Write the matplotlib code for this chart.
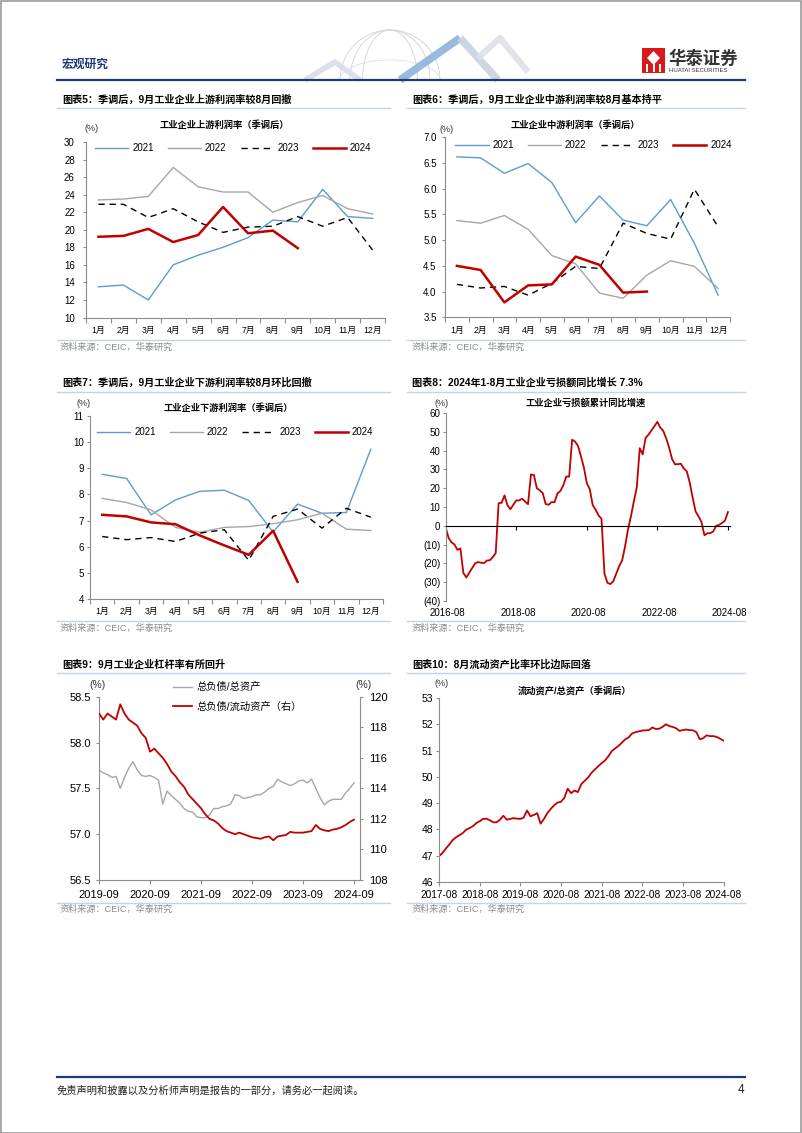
import numpy as np
import matplotlib
matplotlib.use('Agg')
import matplotlib.pyplot as plt
import matplotlib.transforms as mtransforms
from matplotlib.lines import Line2D
from matplotlib.patches import Rectangle, Polygon, Arc

plt.rcParams['font.family'] = ['Liberation Sans', 'Noto Sans CJK SC', 'DejaVu Sans']
plt.rcParams['axes.unicode_minus'] = False

# ---------------- data ----------------
months_cn = ['1月', '2月', '3月', '4月', '5月', '6月', '7月', '8月', '9月', '10月', '11月', '12月']
years = ['2021', '2022', '2023', '2024']

up_2021 = [13.5, 13.7, 12.0, 16.0, 17.1, 18.0, 19.1, 21.1, 20.9, 24.6, 21.5, 21.3]
up_2022 = [23.4, 23.5, 23.8, 27.1, 24.9, 24.3, 24.3, 22.0, 23.1, 23.9, 22.4, 21.8]
up_2023 = [22.9, 22.9, 21.4, 22.4, 20.9, 19.7, 20.3, 20.4, 21.5, 20.4, 21.4, 17.7]
up_2024 = [19.2, 19.3, 20.1, 18.6, 19.4, 22.6, 19.6, 19.9, 17.9]

mid_2021 = [6.62, 6.60, 6.30, 6.49, 6.12, 5.34, 5.86, 5.39, 5.28, 5.79, 4.94, 3.93]
mid_2022 = [5.38, 5.33, 5.48, 5.21, 4.70, 4.54, 3.97, 3.87, 4.32, 4.60, 4.49, 4.06]
mid_2023 = [4.14, 4.07, 4.10, 3.93, 4.16, 4.49, 4.45, 5.33, 5.13, 5.02, 5.99, 5.26]
mid_2024 = [4.50, 4.42, 3.79, 4.12, 4.14, 4.68, 4.52, 3.98, 4.00]

down_2021 = [8.77, 8.61, 7.22, 7.79, 8.12, 8.16, 7.77, 6.56, 7.63, 7.28, 7.31, 9.73]
down_2022 = [7.85, 7.69, 7.41, 6.74, 6.55, 6.74, 6.77, 6.88, 7.03, 7.28, 6.67, 6.62]
down_2023 = [6.39, 6.27, 6.35, 6.20, 6.52, 6.65, 5.48, 7.16, 7.44, 6.71, 7.47, 7.13]
down_2024 = [7.22, 7.16, 6.93, 6.86, 6.43, 6.05, 5.69, 6.61, 4.66]

# 亏损额累计同比, monthly 2016-08 .. 2024-08
loss_yoy = [-1.0, -6.5, -8.8, -10.0, -12.8, -12.0, -25.0, -27.5, -25.0, -22.5,
            -20.0, -19.3, -19.6, -19.9, -18.5, -18.3, -16.7, -14.6, 12.0, 12.2,
            16.2, 11.0, 8.8, 11.2, 13.5, 13.5, 14.4, 12.9, 11.5, 27.3,
            27.0, 20.0, 18.9, 17.4, 11.6, 11.2, 12.6, 12.5, 17.2, 18.5,
            21.5, 26.2, 26.2, 45.8, 44.8, 42.5, 37.0, 31.0, 22.7, 19.5,
            11.0, 8.5, 5.5, 3.7, -25.5, -30.3, -31.0, -29.5, -25.5, -21.5,
            -18.5, -11.0, -2.0, 5.0, 13.0, 20.5, 41.3, 38.0, 46.8, 48.5,
            50.8, 53.0, 55.3, 52.2, 50.5, 46.5, 41.5, 35.5, 32.7, 32.8,
            33.0, 30.5, 29.0, 23.0, 15.0, 7.6, 5.0, 2.0, -5.0, -4.0,
            -3.9, -3.0, 0.0, 0.5, 1.5, 2.8, 7.3]
loss_ticklabels = ['2016-08', '2018-08', '2020-08', '2022-08', '2024-08']
loss_yticklabels = ['(40)', '(30)', '(20)', '(10)', '0', '10', '20', '30', '40', '50', '60']

# 杠杆率, monthly 2019-09 .. 2024-09
lev_total = [57.70, 57.67, 57.65, 57.62, 57.63, 57.50, 57.62, 57.72, 57.79, 57.70,
             57.64, 57.63, 57.64, 57.62, 57.59, 57.33, 57.47, 57.42, 57.38, 57.34,
             57.28, 57.25, 57.24, 57.19, 57.18, 57.18, 57.21, 57.28, 57.28, 57.30,
             57.31, 57.33, 57.43, 57.42, 57.39, 57.40, 57.41, 57.43, 57.43, 57.46,
             57.50, 57.52, 57.60, 57.57, 57.55, 57.53, 57.55, 57.58, 57.59, 57.56,
             57.60, 57.50, 57.40, 57.32, 57.36, 57.38, 57.38, 57.38, 57.45, 57.50,
             57.56]
lev_current = [118.9, 118.5, 118.9, 118.7, 118.5, 119.5, 118.9, 118.5, 118.3, 118.1,
               117.6, 117.3, 116.4, 116.6, 116.3, 116.0, 115.6, 115.1, 114.8, 114.4,
               114.1, 113.6, 113.3, 113.0, 112.7, 112.3, 112.0, 111.9, 111.7, 111.4,
               111.2, 111.1, 111.0, 111.1, 111.0, 110.9, 110.8, 110.75, 110.7, 110.8,
               110.85, 110.6, 110.85, 110.9, 110.95, 111.15, 111.1, 111.1, 111.1, 111.15,
               111.2, 111.6, 111.35, 111.25, 111.2, 111.3, 111.35, 111.45, 111.6, 111.8,
               111.95]
lev_ticklabels = ['2019-09', '2020-09', '2021-09', '2022-09', '2023-09', '2024-09']
lev_names = ['总负债/总资产', '总负债/流动资产（右）']

# 流动资产/总资产, monthly 2017-08 .. 2024-08
cur_ratio = [46.98, 47.10, 47.27, 47.42, 47.59, 47.70, 47.78, 47.86, 47.99, 48.05,
             48.12, 48.24, 48.31, 48.40, 48.41, 48.35, 48.27, 48.27, 48.37, 48.52,
             48.37, 48.40, 48.43, 48.41, 48.40, 48.45, 48.72, 48.50, 48.55, 48.62,
             48.22, 48.40, 48.62, 48.78, 48.92, 49.02, 49.05, 49.20, 49.55, 49.38,
             49.48, 49.42, 49.72, 49.85, 49.97, 50.15, 50.28, 50.40, 50.52, 50.62,
             50.78, 50.98, 51.08, 51.18, 51.30, 51.43, 51.50, 51.65, 51.70, 51.73,
             51.76, 51.77, 51.78, 51.88, 51.82, 51.83, 51.90, 52.00, 51.93, 51.90,
             51.85, 51.75, 51.78, 51.80, 51.78, 51.77, 51.70, 51.43, 51.47, 51.58,
             51.55, 51.55, 51.52, 51.45, 51.38]
cur_ticklabels = ['2017-08', '2018-08', '2019-08', '2020-08', '2021-08', '2022-08', '2023-08', '2024-08']

# ---------------- style ----------------
BLUE = '#5B9BD5'
GRAY = '#A6A6A6'
RED = '#C00000'
AXC = '#8C8C8C'
NAVY = '#1F3A78'
LIGHTLINE = '#C5D3E2'

W, H = 802, 1133
fig = plt.figure(figsize=(W / 100, H / 100), dpi=100)


def ax_px(l, t, r, b):
    return fig.add_axes([l / W, 1 - b / H, (r - l) / W, (b - t) / H])


def ftext(x, y, s, **kw):
    kw.setdefault('va', 'center')
    return fig.text(x / W, 1 - y / H, s, **kw)


def hline(x0, x1, y, color, lw):
    fig.add_artist(Line2D([x0 / W, x1 / W], [1 - y / H, 1 - y / H], color=color, lw=lw,
                          transform=fig.transFigure))


def fpoly(pts, color, lw, alpha=1.0):
    fig.add_artist(Line2D([p[0] / W for p in pts], [1 - p[1] / H for p in pts], color=color,
                          lw=lw, alpha=alpha, transform=fig.transFigure, solid_capstyle='butt'))


def style_spines(ax):
    for s in ['top', 'right']:
        ax.spines[s].set_visible(False)
    for s in ['left', 'bottom']:
        ax.spines[s].set_color(AXC)
        ax.spines[s].set_linewidth(0.8)
    ax.patch.set_alpha(0)


def cat_chart(ax, d21, d22, d23, d24, ylim, yticks, yfmt, ypad, legx, legy):
    x = np.arange(12)
    ax.plot(x, d21, color=BLUE, lw=1.0, label=years[0])
    ax.plot(x, d22, color=GRAY, lw=1.0, label=years[1])
    ax.plot(x, d23, color='black', lw=1.0, ls=(0, (4.5, 3.5)), label=years[2])
    ax.plot(np.arange(len(d24)), d24, color=RED, lw=1.8, label=years[3])
    ax.set_xlim(-0.5, 11.5)
    ax.set_xticks(x)
    ax.set_xticklabels(months_cn, fontsize=6.3)
    ax.set_xticks(np.arange(-0.5, 12, 1), minor=True)
    ax.tick_params(axis='x', which='major', length=0, pad=6)
    ax.tick_params(axis='x', which='minor', length=3.5, direction='out', color=AXC, width=0.8)
    ax.set_ylim(*ylim)
    ax.set_yticks(yticks)
    ax.set_yticklabels([yfmt.format(v) for v in yticks], fontsize=7)
    ax.tick_params(axis='y', length=2.5, direction='out', color=AXC, width=0.8, pad=ypad)
    style_spines(ax)
    ax.legend(loc='center left', bbox_to_anchor=(legx, legy), ncol=4, frameon=False,
              fontsize=7, handlelength=3.4, handletextpad=0.4, columnspacing=1.45,
              borderaxespad=0, borderpad=0.2)


# ---------------- page frame / header ----------------
fig.add_artist(Rectangle((0.5 / W, 0.5 / H), (W - 1.5) / W, (H - 1.5) / H, transform=fig.transFigure,
                         fill=False, edgecolor='#9A9A9A', lw=1.2))

# decorative header graphic (faint globe + zigzag ribbons)
for wdt, th1, th2 in [(100, 0, 180), (80, 0, 180), (55, 0, 180)]:
    fig.add_artist(Arc((390 / W, 1 - 80 / H), wdt / W, 100 / H, theta1=th1, theta2=th2,
                       transform=fig.transFigure, edgecolor='#D3D8DE', lw=0.7))
fig.add_artist(Arc((390 / W, 1 - 80 / H), 100 / W, 40 / H, theta1=0, theta2=180,
                   transform=fig.transFigure, edgecolor='#DCE0E5', lw=0.6))
fpoly([(305, 80), (335, 62), (360, 80)], '#D5DEE8', 4, 0.9)
fpoly([(400, 80), (460, 38)], '#8FB2DB', 5.5, 0.9)
fpoly([(460, 38), (498, 80)], '#C9D3DE', 5.5, 0.9)
fpoly([(478, 58), (500, 38), (528, 72)], '#DCE2E9', 4.5, 0.9)

ftext(62, 65, '宏观研究', fontsize=8.5, color=NAVY, fontweight='bold')
fig.add_artist(Rectangle((642 / W, 1 - 73 / H), 23 / W, 25 / H, transform=fig.transFigure,
                         facecolor='#D7191C', edgecolor='none'))
fig.add_artist(Polygon([(653.5 / W, 1 - 51 / H), (660 / W, 1 - 58 / H), (653.5 / W, 1 - 65 / H),
                        (647 / W, 1 - 58 / H)], closed=True, transform=fig.transFigure,
                       facecolor='white', edgecolor='none'))
for xx in [647, 653.5, 660]:
    fpoly([(xx, 64), (xx, 72)], 'white', 1.4)
ftext(668, 58, '华泰证券', fontsize=12.5, color='#333333', fontweight='bold')
ftext(669, 70.5, 'HUATAI SECURITIES', fontsize=4.3, color='#333333')
hline(57, 745, 80, NAVY, 1.6)

# footer
hline(57, 745, 1077, NAVY, 1.6)
ftext(57, 1090, '免责声明和披露以及分析师声明是报告的一部分，请务必一起阅读。', fontsize=7.4,
      color='#222222', style='italic')
ftext(744, 1090, '4', fontsize=8.5, ha='right', color='#222222')

# ---------------- section titles and sources ----------------
LX0, LX1, RX0, RX1 = 57, 390, 407, 745
titles = [
    (62, 100, '图表5：季调后，9月工业企业上游利润率较8月回撤'),
    (412, 100, '图表6：季调后，9月工业企业中游利润率较8月基本持平'),
    (62, 383, '图表7：季调后，9月工业企业下游利润率较8月环比回撤'),
    (412, 383, '图表8：2024年1-8月工业企业亏损额同比增长 7.3%'),
    (62, 665, '图表9：9月工业企业杠杆率有所回升'),
    (412, 665, '图表10：8月流动资产比率环比边际回落'),
]
for x, y, s in titles:
    ftext(x, y, s, fontsize=7.3, fontweight='bold', color='black')
for y in [107.5, 392, 673]:
    hline(LX0, LX1, y, LIGHTLINE, 1.0)
    hline(RX0, RX1, y, LIGHTLINE, 1.0)
for ys, yl in [(347, 339.5), (628.5, 621), (909, 902.5)]:
    hline(LX0, LX1, yl, LIGHTLINE, 1.0)
    hline(RX0, RX1, yl, LIGHTLINE, 1.0)
    ftext(60, ys, '资料来源：CEIC，华泰研究', fontsize=6.6, color='#8C8C8C')
    ftext(412, ys, '资料来源：CEIC，华泰研究', fontsize=6.6, color='#8C8C8C')

SUBFS = 6.7

# ---------------- chart 5 ----------------
ax5 = ax_px(86, 142, 385, 317.5)
cat_chart(ax5, up_2021, up_2022, up_2023, up_2024, (10, 30), list(range(10, 31, 2)), '{:d}',
          5.5, 0.025, 0.963)
ftext(224, 125, '工业企业上游利润率（季调后）', fontsize=SUBFS, fontweight='bold', ha='center')
ftext(92, 128.5, '(%)', fontsize=6.5, ha='center', color='#333333')

# ---------------- chart 6 ----------------
ax6 = ax_px(445, 137.3, 730, 317.3)
cat_chart(ax6, mid_2021, mid_2022, mid_2023, mid_2024, (3.5, 7.0),
          [3.5, 4.0, 4.5, 5.0, 5.5, 6.0, 6.5, 7.0], '{:.1f}', 3.5, 0.03, 0.955)
ftext(575, 125.5, '工业企业中游利润率（季调后）', fontsize=SUBFS, fontweight='bold', ha='center')
ftext(447, 129, '(%)', fontsize=6.5, ha='center', color='#333333')

# ---------------- chart 7 ----------------
ax7 = ax_px(90, 416, 383, 599)
cat_chart(ax7, down_2021, down_2022, down_2023, down_2024, (4, 11), list(range(4, 12)), '{:d}',
          2.0, 0.018, 0.912)
ftext(228, 408, '工业企业下游利润率（季调后）', fontsize=SUBFS, fontweight='bold', ha='center')
ftext(84, 404, '(%)', fontsize=6.5, ha='center', color='#333333')

# ---------------- chart 8 ----------------
ax8 = ax_px(445.7, 413, 730, 601)
xm = np.arange(len(loss_yoy))
ax8.plot(xm, loss_yoy, color=RED, lw=1.3)
ax8.set_xlim(0, 96.7)
ax8.set_ylim(-40, 60)
ax8.set_yticks(list(range(-40, 61, 10)))
ax8.set_yticklabels(loss_yticklabels, fontsize=7)
ax8.tick_params(axis='y', length=2.5, direction='out', color=AXC, width=0.8, pad=1.5)
style_spines(ax8)
ax8.spines['bottom'].set_position(('data', 0))
ax8.spines['bottom'].set_color('black')
xt8 = [0, 24, 48, 72, 96]
ax8.set_xticks(xt8)
ax8.tick_params(axis='x', length=3, direction='out', color='black', width=0.8, labelbottom=False)
trans8 = mtransforms.blended_transform_factory(ax8.transData, ax8.transAxes)
for xv, lab in zip(xt8, loss_ticklabels):
    t = ax8.text(xv + 0.6, -0.062, lab, transform=trans8, ha='center', va='center', fontsize=7)
ftext(586, 403, '工业企业亏损额累计同比增速', fontsize=SUBFS, fontweight='bold', ha='center')
ftext(442, 403, '(%)', fontsize=6.5, ha='center', color='#333333')

# ---------------- chart 9 ----------------
ax9 = ax_px(99, 696.7, 360, 880)
ax9r = ax9.twinx()
xl = np.arange(len(lev_total))
l1, = ax9.plot(xl, lev_total, color=GRAY, lw=1.0, label=lev_names[0])
l2, = ax9r.plot(xl, lev_current, color=RED, lw=1.3, label=lev_names[1])
ax9.set_xlim(0, 61.4)
ax9.set_ylim(56.5, 58.5)
ax9.set_yticks([56.5, 57.0, 57.5, 58.0, 58.5])
ax9.set_yticklabels(['56.5', '57.0', '57.5', '58.0', '58.5'], fontsize=8)
ax9r.set_ylim(108, 120)
ax9r.set_yticks(list(range(108, 121, 2)))
ax9r.set_yticklabels([str(v) for v in range(108, 121, 2)], fontsize=8)
ax9.set_xticks(list(range(0, 61, 12)))
ax9.set_xticklabels(lev_ticklabels, fontsize=8)
ax9.tick_params(axis='x', length=3, direction='out', color=AXC, width=0.8, pad=4)
ax9.tick_params(axis='y', length=2.5, direction='out', color=AXC, width=0.8, pad=3)
ax9r.tick_params(axis='y', length=2.5, direction='out', color=AXC, width=0.8, pad=4)
style_spines(ax9)
for s in ['top', 'left', 'bottom']:
    ax9r.spines[s].set_visible(False)
ax9r.spines['right'].set_color(AXC)
ax9r.spines['right'].set_linewidth(0.8)
ax9.legend(handles=[l1, l2], loc='upper left', bbox_to_anchor=(0.285, 1.08), frameon=False,
           fontsize=7.4, handlelength=1.8, handletextpad=0.5, labelspacing=0.95,
           borderaxespad=0, borderpad=0)
ftext(97, 685, '(%)', fontsize=7.5, ha='center', color='#333333')
ftext(364, 685, '(%)', fontsize=7.5, ha='center', color='#333333')

# ---------------- chart 10 ----------------
ax10 = ax_px(439, 698, 723.5, 882)
xc = np.arange(len(cur_ratio))
ax10.plot(xc, cur_ratio, color=RED, lw=1.3)
ax10.set_xlim(0, 84)
ax10.set_ylim(46, 53)
ax10.set_yticks(list(range(46, 54)))
ax10.set_yticklabels([str(v) for v in range(46, 54)], fontsize=7.5)
ax10.set_xticks(list(range(0, 85, 12)))
ax10.set_xticklabels(cur_ticklabels, fontsize=7.3)
ax10.tick_params(axis='x', length=3, direction='out', color=AXC, width=0.8, pad=2.5)
ax10.tick_params(axis='y', length=2.5, direction='out', color=AXC, width=0.8, pad=1.5)
style_spines(ax10)
ftext(575, 691, '流动资产/总资产（季调后）', fontsize=SUBFS, fontweight='bold', ha='center')
ftext(442, 684, '(%)', fontsize=6.5, ha='center', color='#333333')

fig.savefig('out.png', dpi=100)
